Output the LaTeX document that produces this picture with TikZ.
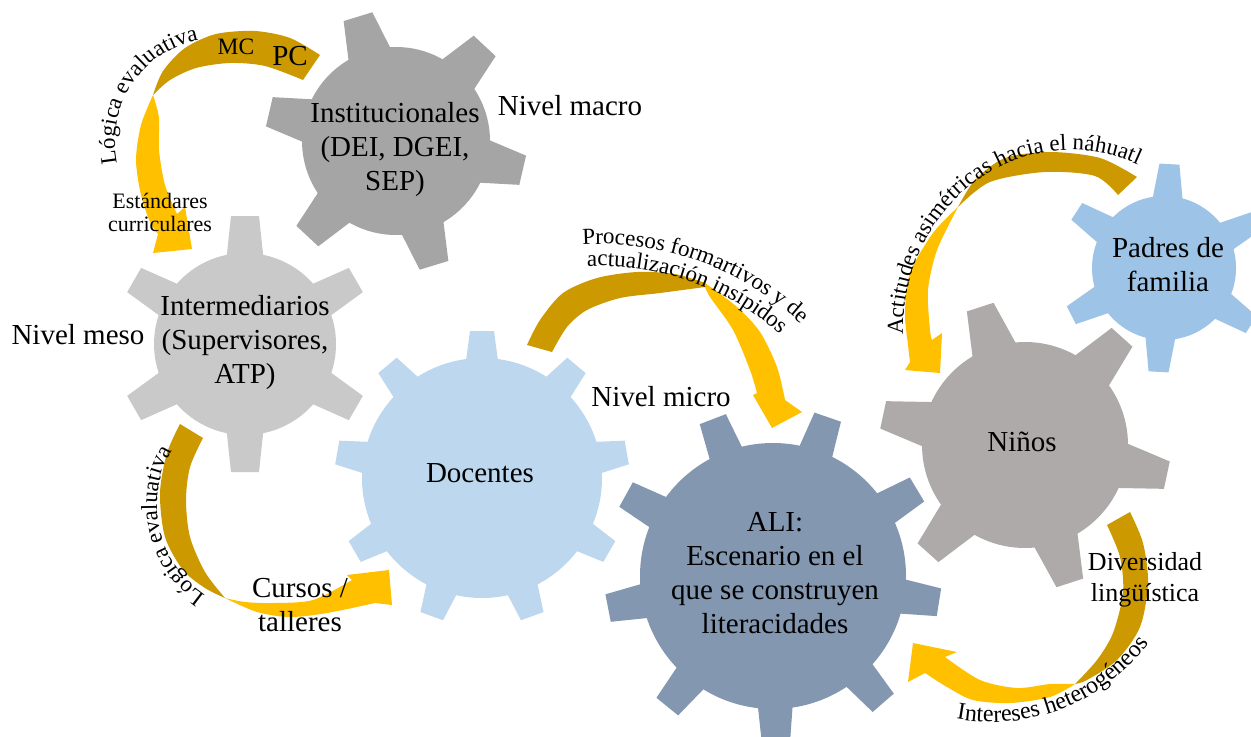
\documentclass[tikz,border=0pt]{standalone}
\usepackage{fontspec}
\setmainfont{Liberation Serif}
\usetikzlibrary{decorations.text}

\definecolor{InstGray}{HTML}{A5A5A5}
\definecolor{MesoGray}{HTML}{C9C9C9}
\definecolor{DocBlue}{HTML}{BDD7EE}
\definecolor{AliSlate}{HTML}{8497B0}
\definecolor{KidGray}{HTML}{AEAAAA}
\definecolor{FamBlue}{HTML}{9DC3E6}
\definecolor{Ochre}{HTML}{CC9900}
\definecolor{Amber}{HTML}{FFC000}

\tikzset{
  gearlabel/.style={align=center,inner sep=0pt,font=\fontsize{14.5}{17}\selectfont},
  levellabel/.style={inner sep=0pt,font=\fontsize{14.5}{17}\selectfont},
  notelabel/.style={align=center,inner sep=0pt,font=\fontsize{11}{11.5}\selectfont},
  backband/.style={fill=Ochre},
  frontband/.style={fill=Amber},
  arclabel/.style={decorate,decoration={text along path,text align=center,
    text={|\fontsize{11.5}{13}\selectfont|#1}}},
}

% gear: centre, body radius, tip radius, teeth, first angle, base half width, tip half width, colour
\newcommand{\gearwheel}[8]{%
  \fill[#8] (#1) circle[radius=#2];
  \foreach \k in {1,...,#4}{%
    \pgfmathsetmacro{\tang}{#5+360/#4*\k}
    \fill[#8,shift={(#1)},rotate=\tang] (#2-10,-#6) -- (#3,-#7) -- (#3,#7) -- (#2-10,#6) -- cycle;
  }%
}

\begin{document}
\begin{tikzpicture}[x=0.5pt,y=0.5pt]
  \useasboundingbox (0,0) rectangle (1251,736);

  % gears
  \coordinate (gInst) at (396,595);
  \coordinate (gInter) at (245,392);
  \coordinate (gDoc) at (482,258);
  \coordinate (gAli) at (773,160);
  \coordinate (gKid) at (1025,291);
  \coordinate (gFam) at (1164,468);
  \gearwheel{gInst}{94}{130}{6}{-13}{23}{15}{InstGray}
  \gearwheel{gInter}{91}{128}{6}{30}{19}{14}{MesoGray}
  \gearwheel{gDoc}{120}{147}{9}{10}{17}{12}{DocBlue}
  \gearwheel{gAli}{133}{168}{9}{31}{18}{14}{AliSlate}
  \gearwheel{gKid}{103}{145}{6}{-12}{24}{14}{KidGray}
  \gearwheel{gFam}{72}{104}{6}{27}{16}{10}{FamBlue}

  % arrow: macro -> meso
  \fill[backband] plot[smooth] coordinates {(320,681) (290,698) (255,705) (216,702) (185,688) (163,665) (153,641)}
    -- plot[smooth] coordinates {(153,641) (170,656) (196,668) (230,673) (265,670) (303,656)} -- cycle;
  \fill[frontband] plot[smooth] coordinates {(153,641) (141,611) (136,576) (141,541) (150,514) (158,502)}
    -- (153,483) -- (192,487) -- (185,529) -- (177,522)
    -- plot[smooth] coordinates {(177,522) (165,551) (159,586) (159,618) (153,641)} -- cycle;

  % arrow: meso -> docentes
  \fill[backband] plot[smooth] coordinates {(180,312) (167,283) (160,243) (165,199) (183,166) (205,148) (225,138)}
    -- plot[smooth] coordinates {(225,138) (205,164) (190,199) (186,236) (190,269) (203,298)} -- cycle;
  \fill[frontband] plot[smooth] coordinates {(225,138) (257,124) (290,119) (327,123) (375,133)}
    -- (392,131) -- (389,166) -- (347,161) -- (352,156)
    -- plot[smooth] coordinates {(352,156) (313,136) (273,133) (245,134) (225,138)} -- cycle;

  % arrow: docentes -> ALI
  \fill[backband] plot[smooth] coordinates {(527,391) (540,416) (563,443) (597,458) (637,464) (675,462) (705,453)}
    -- plot[smooth] coordinates {(705,449) (660,443) (620,438) (587,426) (567,409) (552,384)} -- cycle;
  \fill[frontband] plot[smooth] coordinates {(705,453) (737,429) (760,404) (777,369) (785,336)}
    -- (802,324) -- (772,308) -- (753,341) -- (757,343)
    -- plot[smooth] coordinates {(757,343) (750,366) (733,406) (710,439) (705,449)} -- cycle;

  % arrow: padres -> ninos
  \fill[backband] plot[smooth] coordinates {(1137,559) (1100,578) (1050,584) (1005,578) (975,556) (958,529)}
    -- plot[smooth] coordinates {(958,529) (990,554) (1045,564) (1095,560) (1118,541)} -- cycle;
  \fill[frontband] plot[smooth] coordinates {(958,529) (933,503) (910,463) (905,423) (908,391) (910,374)}
    -- (905,366) -- (940,363) -- (942,403) -- (932,396)
    -- plot[smooth] coordinates {(932,396) (930,406) (928,446) (937,486) (958,529)} -- cycle;

  % arrow: ninos -> ALI
  \fill[backband] plot[smooth] coordinates {(1130,224) (1143,193) (1148,153) (1140,109) (1117,76) (1087,56) (1075,52)}
    -- plot[smooth] coordinates {(1075,52) (1097,76) (1113,103) (1123,143) (1120,179) (1107,211)} -- cycle;
  \fill[frontband] plot[smooth] coordinates {(1075,52) (1050,39) (1010,33) (973,36) (947,49) (925,63)}
    -- (908,54) -- (913,93) -- (957,84) -- (945,79)
    -- plot[smooth] coordinates {(945,79) (980,56) (1017,48) (1050,52) (1075,52)} -- cycle;

  % labels
  \node[gearlabel] (inst) at (395,586) {Institucionales\\(DEI, DGEI,\\SEP)};
  \node[gearlabel] (inter) at (245,393) {Intermediarios\\(Supervisores,\\ATP)};
  \node[gearlabel] (doc) at (480,263) {Docentes};
  \node[gearlabel] (ali) at (775,163) {ALI:\\Escenario en el\\que se construyen\\literacidades};
  \node[gearlabel] (ninos) at (1022,294) {Niños};
  \node[gearlabel] (padres) at (1168,471) {Padres de\\familia};
  \node[levellabel] (macro) at (570,630) {Nivel macro};
  \node[levellabel] (meso) at (78,401) {Nivel meso};
  \node[levellabel] (micro) at (661,339) {Nivel micro};
  \node[notelabel] (estandares) at (160,524) {Estándares\\curriculares};
  \node[inner sep=0pt,font=\fontsize{11.75}{13}\selectfont] (mc) at (236,689) {MC};
  \node[levellabel] (pc) at (290,680) {PC};
  \node[align=center,inner sep=0pt,font=\fontsize{13}{15.5}\selectfont] (diversidad) at (1145,156) {Diversidad\\lingüística};
  \node[gearlabel] (cursos) at (300,131) {Cursos /\\talleres};

  % text along the arrows
  \path[arclabel={Lógica evaluativa}] (219,594) ++(194:104) arc[start angle=194,end angle=99,radius=104];
  \path[arclabel={Lógica evaluativa}] (265,231) ++(236:108) arc[start angle=236,end angle=150,radius=108];
  \path[arclabel={Procesos formartivos y de}] (599,196) ++(94:296) arc[start angle=94,end angle=46,radius=296];
  \path[arclabel={actualización insípidos}] (599,196) ++(93:274) arc[start angle=93,end angle=48,radius=274];
  \path[arclabel={Actitudes asimétricas hacia el náhuatl}] (1071,406) ++(183:168 and 180)
    arc[start angle=183,end angle=65,x radius=168,y radius=180];
  \path[decorate,decoration={text along path,text align=center,
    text={|\fontsize{12}{13}\selectfont|Intereses heterogéneos}}]
    (992,209) ++(258:195) arc[start angle=258,end angle=325,radius=195];
\end{tikzpicture}
\end{document}
